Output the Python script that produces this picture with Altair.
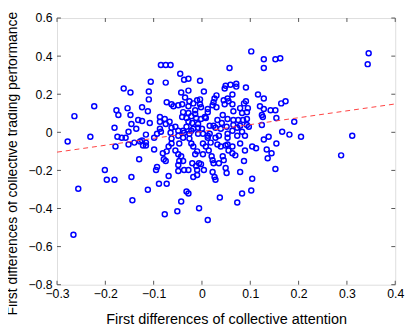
import altair as alt
import pandas as pd

# First differences of collective attention (x) and trading performance (y)
att = [
    -0.278, -0.264, -0.266, -0.256, -0.231, -0.223, -0.201, -0.197, -0.181, -0.181,
    -0.179, -0.177, -0.175, -0.173, -0.166, -0.162, -0.158, -0.154, -0.152, -0.152,
    -0.148, -0.148, -0.146, -0.146, -0.144, -0.140, -0.136, -0.132, -0.130, -0.128,
    -0.124, -0.124, -0.124, -0.122, -0.116, -0.116, -0.116, -0.112, -0.110, -0.110,
    -0.112, -0.108, -0.106, -0.099, -0.099, -0.093, -0.093, -0.095, -0.087, -0.085,
    -0.087, -0.087, -0.089, -0.085, -0.081, -0.079, -0.075, -0.077, -0.077, -0.075,
    -0.075, -0.075, -0.073, -0.073, -0.073, -0.069, -0.069, -0.067, -0.065, -0.065,
    -0.063, -0.059, -0.063, -0.063, -0.063, -0.055, -0.055, -0.051, -0.049, -0.049,
    -0.049, -0.047, -0.049, -0.047, -0.049, -0.049, -0.045, -0.043, -0.043, -0.043,
    -0.041, -0.041, -0.039, -0.039, -0.039, -0.039, -0.037, -0.037, -0.037, -0.035,
    -0.032, -0.032, -0.032, -0.028, -0.028, -0.028, -0.028, -0.028, -0.028, -0.028,
    -0.026, -0.026, -0.026, -0.022, -0.022, -0.022, -0.020, -0.020, -0.018, -0.018,
    -0.018, -0.018, -0.014, -0.014, -0.014, -0.012, -0.012, -0.010, -0.008, -0.010,
    -0.010, -0.010, -0.008, -0.008, -0.006, -0.006, -0.004, -0.004, -0.004, -0.002,
    -0.002, -0.002, 0.000, 0.002, 0.002, 0.002, 0.004, 0.004, 0.006, 0.008,
    0.008, 0.012, 0.012, 0.012, 0.012, 0.012, 0.014, 0.016, 0.016, 0.018,
    0.020, 0.022, 0.022, 0.022, 0.024, 0.024, 0.026, 0.026, 0.028, 0.028,
    0.028, 0.030, 0.030, 0.032, 0.032, 0.024, 0.035, 0.035, 0.037, 0.039,
    0.039, 0.041, 0.043, 0.043, 0.045, 0.045, 0.047, 0.047, 0.049, 0.049,
    0.049, 0.051, 0.051, 0.053, 0.053, 0.053, 0.053, 0.053, 0.055, 0.055,
    0.057, 0.059, 0.063, 0.063, 0.063, 0.063, 0.063, 0.065, 0.065, 0.065,
    0.069, 0.071, 0.071, 0.073, 0.073, 0.073, 0.075, 0.079, 0.079, 0.079,
    0.079, 0.083, 0.083, 0.083, 0.085, 0.087, 0.087, 0.089, 0.089, 0.091,
    0.091, 0.093, 0.093, 0.093, 0.095, 0.097, 0.102, 0.102, 0.104, 0.104,
    0.112, 0.116, 0.120, 0.124, 0.126, 0.124, 0.128, 0.128, 0.128, 0.128,
    0.128, 0.134, 0.136, 0.138, 0.142, 0.144, 0.152, 0.152, 0.152, 0.154,
    0.154, 0.162, 0.164, 0.166, 0.173, 0.181, 0.191, 0.205, 0.288, 0.311,
    0.343, 0.345,
]
perf = [
    -0.048, 0.085, -0.538, -0.296, -0.023, 0.137, -0.198, -0.249, -0.249, 0.024,
    -0.074, 0.116, -0.023, 0.091, -0.028, 0.230, -0.028, 0.127, 0.003, -0.064,
    0.209, 0.091, -0.234, 0.044, -0.357, -0.054, 0.019, 0.065, -0.141, -0.048,
    0.132, 0.060, -0.043, -0.069, -0.069, -0.012, -0.054, 0.111, 0.214, 0.173,
    -0.301, 0.049, 0.266, -0.028, -0.090, -0.007, -0.182, -0.198, 0.019, 0.353,
    0.080, 0.055, -0.270, 0.003, -0.110, -0.141, -0.151, 0.070, -0.430, 0.353,
    0.261, 0.044, 0.158, -0.100, -0.270, -0.074, -0.229, 0.055, 0.353, -0.002,
    0.147, 0.137, -0.033, 0.024, -0.059, 0.029, -0.095, -0.414, 0.142, 0.008,
    -0.018, -0.059, -0.115, -0.151, -0.172, -0.203, 0.307, 0.209, -0.126, -0.363,
    0.147, 0.080, 0.106, 0.008, -0.028, -0.151, 0.276, -0.002, -0.198, 0.183,
    0.075, 0.029, -0.311, 0.281, 0.219, 0.137, 0.101, 0.055, -0.198, -0.321,
    0.163, -0.007, -0.033, 0.085, 0.008, -0.059, 0.049, -0.162, 0.152, 0.019,
    -0.074, -0.234, 0.096, 0.116, -0.115, 0.075, -0.177, -0.100, 0.044, 0.168,
    -0.198, -0.224, 0.024, -0.007, -0.162, -0.399, 0.271, 0.173, 0.147, 0.132,
    0.070, -0.167, 0.019, -0.059, -0.007, -0.115, 0.214, -0.198, 0.080, -0.074,
    0.075, 0.122, -0.018, 0.106, -0.028, -0.460, -0.095, 0.034, -0.007, -0.054,
    -0.126, 0.142, -0.146, -0.208, 0.034, 0.158, 0.178, -0.234, -0.028, -0.249,
    0.024, 0.194, 0.132, 0.065, -0.064, -0.162, -0.162, -0.018, -0.342, -0.074,
    0.019, 0.049, 0.091, -0.126, 0.168, -0.146, 0.230, 0.147, 0.245, -0.069,
    -0.187, -0.213, 0.029, 0.178, -0.028, -0.064, 0.070, -0.007, -0.095, 0.163,
    0.338, 0.250, 0.199, 0.008, -0.074, -0.110, 0.147, 0.065, 0.039, 0.111,
    -0.121, 0.255, 0.240, 0.024, -0.018, -0.368, 0.065, 0.034, -0.059, 0.127,
    -0.208, 0.003, -0.321, 0.101, 0.065, 0.152, -0.151, -0.018, -0.095, 0.235,
    0.163, 0.039, 0.070, 0.106, 0.127, 0.029, 0.425, -0.306, -0.074, -0.244,
    -0.084, 0.199, 0.137, 0.091, 0.080, 0.039, 0.384, 0.338, 0.178, 0.122,
    -0.038, -0.090, -0.136, -0.023, 0.116, -0.110, 0.384, 0.116, -0.193, 0.075,
    -0.059, 0.389, 0.152, 0.003, 0.163, -0.012, 0.055, -0.023, -0.121, -0.018,
    0.358, 0.415,
]

# Least-squares line as drawn in the reference (read at the axis limits)
fit_x = [-0.3, 0.4]
fit_y = [-0.104, 0.149]

x_ticks = [-0.3, -0.2, -0.1, 0.0, 0.1, 0.2, 0.3, 0.4]
y_ticks = [-0.8, -0.6, -0.4, -0.2, 0.0, 0.2, 0.4, 0.6]

W, H = 345, 272
FONT = "Liberation Sans"
GRAY = "#555555"

pts = pd.DataFrame({"att": att, "perf": perf})
fit = pd.DataFrame({"att": fit_x, "perf": fit_y})
xt = pd.DataFrame({"att": x_ticks})
yt = pd.DataFrame({"perf": y_ticks})

xscale = alt.Scale(domain=[-0.3, 0.4], nice=False, zero=False)
yscale = alt.Scale(domain=[-0.8, 0.6], nice=False, zero=False)

xaxis = alt.Axis(
    values=x_ticks, format=".1~f", ticks=False, domain=False, grid=False,
    labelFont=FONT, labelFontSize=12.5, labelColor="#000000", labelPadding=3,
    labelOverlap=False, labelFlush=False, labelBound=False,
    title="First differences of collective attention",
    titleFont=FONT, titleFontSize=14.7, titleFontWeight="normal", titleColor="#000000",
    titleY=28, titleBaseline="top",
)
yaxis = alt.Axis(
    values=y_ticks, format=".1~f", ticks=False, domain=False, grid=False,
    labelFont=FONT, labelFontSize=12.5, labelColor="#000000", labelPadding=5,
    labelOverlap=False, labelFlush=False, labelBound=False,
    title="First differences of collective trading performance",
    titleFont=FONT, titleFontSize=14.2, titleFontWeight="normal", titleColor="#000000",
    titleX=-38, titleY=148,
)

X = alt.X("att:Q", scale=xscale, axis=xaxis)
Y = alt.Y("perf:Q", scale=yscale, axis=yaxis)

points = alt.Chart(pts).mark_point(
    shape="circle", filled=False, color="#0000ff", size=26, strokeWidth=1.5, opacity=1
).encode(x=X, y=Y)

line = alt.Chart(fit).mark_line(
    color="#ff4040", strokeWidth=1, strokeDash=[5, 4], clip=True
).encode(x=X, y=Y)

TL = 4
tick_style = dict(color=GRAY, strokeWidth=1)
bot = alt.Chart(xt).mark_rule(**tick_style).encode(
    x=X, y=alt.value(H), y2=alt.value(H - TL))
top = alt.Chart(xt).mark_rule(**tick_style).encode(
    x=X, y=alt.value(0), y2=alt.value(TL))
left = alt.Chart(yt).mark_rule(**tick_style).encode(
    y=Y, x=alt.value(0), x2=alt.value(TL))
right = alt.Chart(yt).mark_rule(**tick_style).encode(
    y=Y, x=alt.value(W), x2=alt.value(W - TL))

chart = alt.layer(points, line, bot, top, left, right).properties(
    width=W, height=H,
    autosize=alt.AutoSizeParams(type="none"),
    padding={"left": 50, "top": 7, "right": 12, "bottom": 45},
).configure_view(
    stroke=GRAY, strokeWidth=1
).configure(background="#ffffff")

chart.save("out.html", embed_options={"renderer": "svg", "actions": False})
